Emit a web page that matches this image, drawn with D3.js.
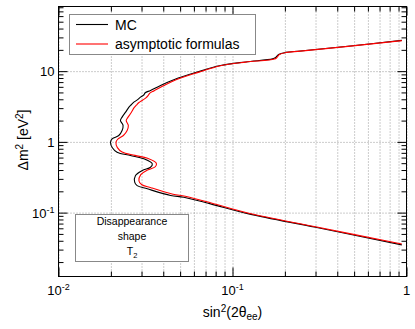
<!DOCTYPE html>
<html>
<head>
<meta charset="utf-8">
<script src="https://cdn.jsdelivr.net/npm/d3@7/dist/d3.min.js"></script>
<style>
body { margin: 0; background: #fff; }
svg { font-family: "Liberation Sans", Arial, sans-serif; }
</style>
</head>
<body>
<script>
// exclusion contour, pairs of [sin^2(2theta_ee), dm^2 (eV^2)]
var mcCurve = [
    [0.94, 27.2], [0.476, 22.7], [0.246, 19.3], [0.202, 18.4], [0.184, 17.2],
    [0.177, 15.6], [0.170, 14.9], [0.119, 13.5], [0.0853, 12.0], [0.0627, 9.7],
    [0.046, 7.55], [0.0386, 6.28], [0.0338, 5.33], [0.0315, 4.95], [0.0309, 4.6],
    [0.0296, 4.29], [0.0285, 3.95], [0.0271, 3.64], [0.0262, 3.35], [0.0254, 3.10],
    [0.0243, 2.63], [0.0232, 2.24], [0.0227, 2.01], [0.0235, 1.71], [0.0232, 1.45],
    [0.0222, 1.23], [0.0204, 1.11], [0.0199, 0.99], [0.0204, 0.826], [0.0217, 0.715],
    [0.0259, 0.642], [0.0309, 0.577], [0.0346, 0.49], [0.0338, 0.438], [0.0303, 0.394],
    [0.0277, 0.335], [0.0274, 0.269], [0.0283, 0.241], [0.0324, 0.217], [0.0441, 0.175],
    [0.0525, 0.165], [0.0748, 0.133], [0.124, 0.096], [0.300, 0.062], [0.94, 0.035]
];
var asymCurve = [
    [0.94, 27.0], [0.476, 22.6], [0.246, 19.2], [0.202, 18.3], [0.186, 17.2],
    [0.180, 15.6], [0.174, 14.8], [0.119, 13.4], [0.0853, 11.9], [0.0635, 9.6],
    [0.047, 7.5], [0.040, 6.2], [0.0355, 5.3], [0.0335, 4.9], [0.0328, 4.55],
    [0.0318, 4.2], [0.0305, 3.9], [0.0290, 3.6], [0.0280, 3.3], [0.0272, 3.05],
    [0.0262, 2.6], [0.0250, 2.2], [0.0245, 2.0], [0.0252, 1.7], [0.0248, 1.45],
    [0.0236, 1.23], [0.0220, 1.1], [0.0214, 0.99], [0.0218, 0.83], [0.0232, 0.72],
    [0.0275, 0.645], [0.0325, 0.585], [0.0365, 0.5], [0.0360, 0.445], [0.0325, 0.40],
    [0.0297, 0.345], [0.0290, 0.28], [0.0300, 0.25], [0.0340, 0.225], [0.0455, 0.182],
    [0.0535, 0.170], [0.0755, 0.137], [0.124, 0.098], [0.300, 0.063], [0.94, 0.036]
];
var seriesNames = ["MC", "asymptotic formulas"];
var seriesColors = ["#000000", "#ff0000"];
var xMajor = [0.01, 0.1, 1];
var xLabels = ["10^-2", "10^-1", "1"];
var yMajor = [0.1, 1, 10];
var yLabels = ["10^-1", "1", "10"];
var infoLines = ["Disappearance", "shape", "T_2"];

var width = 415;
var height = 329;
var padL = 58.5, padR = 406.5, padT = 6.5, padB = 276.5;

var svg = d3.select("body").append("svg").attr("width", width).attr("height", height);

var xScale = d3.scaleLog().domain([0.01, 1]).range([padL, padR]);
var yScale = d3.scaleLog().domain([0.0125, 82]).range([padB, padT]);

// minor ticks at 2..9 of each decade
var xMinor = [];
[0.01, 0.1].forEach(function(d) {
    for (var k = 2; k <= 9; k++) xMinor.push(d * k);
});
var yMinor = [];
[0.01, 0.1, 1, 10].forEach(function(d) {
    for (var k = 2; k <= 9; k++) {
        var v = d * k;
        if (v > 0.0125 && v < 82) yMinor.push(v);
    }
});

// grid
svg.append("g")
    .attr("transform", "translate(0," + padB + ")")
    .call(d3.axisBottom(xScale).tickValues(xMajor.concat(xMinor)).tickFormat("").tickSize(-(padB - padT)))
    .call(function(g) { g.select(".domain").remove(); })
    .selectAll("line")
    .attr("stroke", "#999")
    .attr("stroke-dasharray", "1,2");
svg.append("g")
    .attr("transform", "translate(" + padL + ",0)")
    .call(d3.axisLeft(yScale).tickValues(yMajor).tickFormat("").tickSize(-(padR - padL)))
    .call(function(g) { g.select(".domain").remove(); })
    .selectAll("line")
    .attr("stroke", "#999")
    .attr("stroke-dasharray", "1,2");

// curves
svg.append("clipPath").attr("id", "plotclip")
    .append("rect")
    .attr("x", padL).attr("y", padT)
    .attr("width", padR - padL).attr("height", padB - padT);

var line = d3.line()
    .x(function(d) { return xScale(d[0]); })
    .y(function(d) { return yScale(d[1]); })
    .curve(d3.curveCatmullRom.alpha(0.5));

[mcCurve, asymCurve].forEach(function(c, i) {
    svg.append("path")
        .datum(c)
        .attr("clip-path", "url(#plotclip)")
        .attr("d", line)
        .attr("fill", "none")
        .attr("stroke", seriesColors[i])
        .attr("stroke-width", 1.1);
});

// ticks on all four sides, pointing inward
function tickAxis(axis, values, size, tr) {
    svg.append("g")
        .attr("transform", tr)
        .call(axis.tickValues(values).tickFormat("").tickSize(-size))
        .call(function(g) { g.select(".domain").remove(); })
        .selectAll("line").attr("stroke", "#000");
}
tickAxis(d3.axisBottom(xScale), xMajor, 9, "translate(0," + padB + ")");
tickAxis(d3.axisBottom(xScale), xMinor, 5, "translate(0," + padB + ")");
tickAxis(d3.axisTop(xScale), xMajor, 9, "translate(0," + padT + ")");
tickAxis(d3.axisTop(xScale), xMinor, 5, "translate(0," + padT + ")");
tickAxis(d3.axisLeft(yScale), yMajor, 9, "translate(" + padL + ",0)");
tickAxis(d3.axisLeft(yScale), yMinor, 5, "translate(" + padL + ",0)");
tickAxis(d3.axisRight(yScale), yMajor, 9, "translate(" + padR + ",0)");
tickAxis(d3.axisRight(yScale), yMinor, 5, "translate(" + padR + ",0)");

// frame
svg.append("rect")
    .attr("x", padL).attr("y", padT)
    .attr("width", padR - padL).attr("height", padB - padT)
    .attr("fill", "none").attr("stroke", "#000");

// write "a^b" / "a_b" as text with a raised or lowered tspan
function richText(sel, s, small) {
    var parts = s.split(/([\^_])/);
    sel.append("tspan").text(parts[0]);
    for (var i = 1; i < parts.length; i += 2) {
        var up = parts[i] === "^";
        sel.append("tspan")
            .attr("dy", up ? -5 : 3)
            .attr("font-size", small)
            .text(parts[i + 1]);
    }
}

// tick labels
svg.append("g").selectAll("text")
    .data(xMajor)
    .enter()
    .append("text")
    .attr("x", function(d) { return xScale(d); })
    .attr("y", 295)
    .attr("text-anchor", "middle")
    .attr("font-size", "13px")
    .each(function(d, i) { richText(d3.select(this), xLabels[i], "9px"); });

svg.append("g").selectAll("text")
    .data(yMajor)
    .enter()
    .append("text")
    .attr("x", padL - 4)
    .attr("y", function(d) { return yScale(d) + 5; })
    .attr("text-anchor", "end")
    .attr("font-size", "13px")
    .each(function(d, i) { richText(d3.select(this), yLabels[i], "9px"); });

// axis titles
var xt = svg.append("text")
    .attr("x", (padL + padR) / 2)
    .attr("y", 317)
    .attr("text-anchor", "middle")
    .attr("font-size", "14px");
xt.append("tspan").text("sin");
xt.append("tspan").attr("dy", -5).attr("font-size", "10px").text("2");
xt.append("tspan").attr("dy", 5).text("(2θ");
xt.append("tspan").attr("dy", 3).attr("font-size", "10px").text("ee");
xt.append("tspan").attr("dy", -3).text(")");

var yt = svg.append("text")
    .attr("transform", "translate(28,140) rotate(-90)")
    .attr("text-anchor", "middle")
    .attr("font-size", "14px");
yt.append("tspan").text("Δm");
yt.append("tspan").attr("dy", -5).attr("font-size", "10px").text("2");
yt.append("tspan").attr("dy", 5).text(" [eV");
yt.append("tspan").attr("dy", -5).attr("font-size", "10px").text("2");
yt.append("tspan").attr("dy", 5).text("]");

// legend
svg.append("rect")
    .attr("x", 69.5).attr("y", 14.5)
    .attr("width", 186).attr("height", 40)
    .attr("fill", "#fff").attr("stroke", "#888");
seriesNames.forEach(function(name, i) {
    var ly = 24.5 + i * 19.5;
    svg.append("line")
        .attr("x1", 76).attr("x2", 108)
        .attr("y1", ly).attr("y2", ly)
        .attr("stroke", seriesColors[i]).attr("stroke-width", 1.1);
    svg.append("text")
        .attr("x", 115).attr("y", ly + 5)
        .attr("font-size", "14px")
        .text(name);
});

// info box
svg.append("rect")
    .attr("x", 75.5).attr("y", 214.5)
    .attr("width", 113).attr("height", 47)
    .attr("fill", "#fff").attr("stroke", "#888");
infoLines.forEach(function(s, i) {
    var t = svg.append("text")
        .attr("x", 132)
        .attr("y", 225 + i * 15)
        .attr("text-anchor", "middle")
        .attr("font-size", "10.5px");
    richText(t, s, "7.5px");
});
</script>
</body>
</html>
